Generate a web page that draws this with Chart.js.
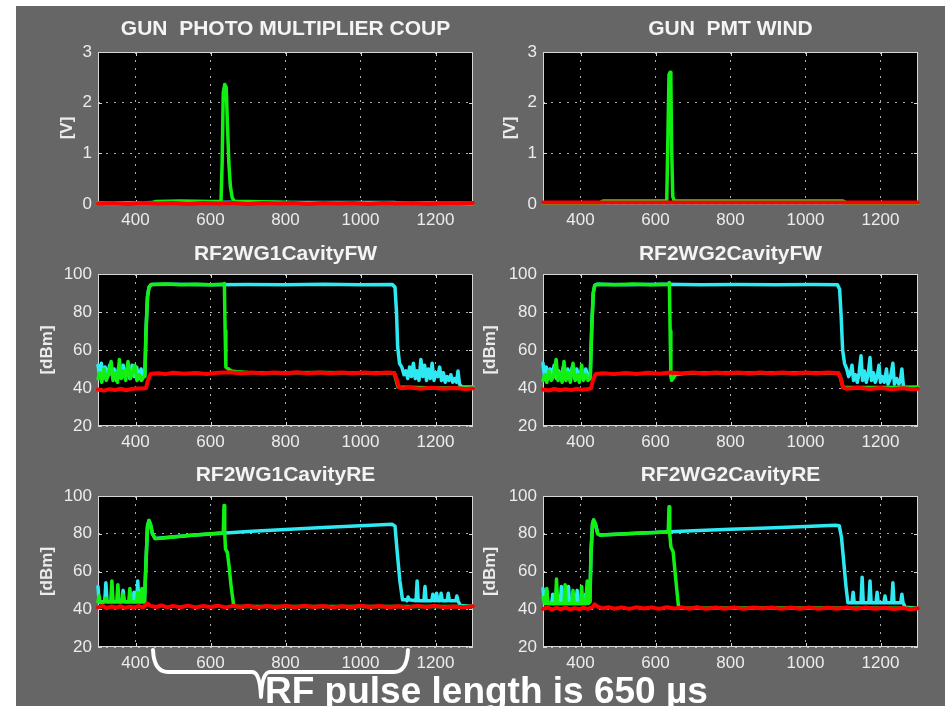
<!DOCTYPE html>
<html>
<head>
<meta charset="utf-8">
<title>RF pulse length</title>
<script src="https://cdn.jsdelivr.net/npm/chart.js@4.4.1/dist/chart.umd.min.js"></script>
<style>
  html, body { margin: 0; padding: 0; overflow: hidden; background: #ffffff; }
  #panel { position: absolute; left: 16px; top: 6px; width: 929px; height: 700px; background: #666666; }
  canvas { position: absolute; }
  #brace { position: absolute; left: 0; top: 0; }
  #note { position: absolute; left: 265px; top: 672px; font: bold 37px "Liberation Sans", Arial, sans-serif;
          line-height: 1; color: #ffffff; white-space: nowrap; }
</style>
</head>
<body>
<div id="panel"></div>
<svg id="brace" width="945" height="706">
  <path d="M153,650 Q154,672 168,672 L252,672 Q260,672 261,697 Q262,672 270,672 L394,672 Q407,672 408,650"
        fill="none" stroke="#ffffff" stroke-width="4" stroke-linecap="round" stroke-linejoin="round"/>
</svg>
<div id="note">RF pulse length is 650 µs</div>

<script>
// ---------------------------------------------------------------- axes
const xTicks = [400, 600, 800, 1000, 1200];
const voltTicks = [0, 1, 2, 3];
const dbmTicks = [20, 40, 60, 80, 100];

// ---------------------------------------------------------------- GUN PHOTO MULTIPLIER COUP [V]
const pmcRed = [[300,0.01],[340,0.02],[380,0.0],[420,0.02],[460,0.01],[500,0.02],[540,0.0],[580,0.02],[620,0.01],[660,0.02],[700,0.0],[740,0.02],[780,0.01],[820,0.02],[860,0.0],[900,0.02],[940,0.01],[980,0.02],[1020,0.0],[1060,0.02],[1100,0.01],[1140,0.02],[1180,0.0],[1220,0.02],[1260,0.01],[1300,0.02]];
const pmcGreen = [[300,0.01],[440,0.01],[455,0.05],[520,0.06],[600,0.05],[628,0.05],[631,0.8],[634,2.2],[638,2.36],[642,2.3],[645,1.6],[649,0.8],[653,0.35],[658,0.12],[664,0.05],[700,0.05],[760,0.04],[800,0.03],[900,0.02],[1000,0.02],[1100,0.02],[1300,0.01]];
const pmcCyan = [[300,0.02],[400,0.02],[450,0.03],[600,0.03],[700,0.04],[800,0.03],[900,0.03],[1000,0.03],[1090,0.03],[1100,0.02],[1300,0.01]];

// ---------------------------------------------------------------- GUN PMT WIND [V]
const pmtRed = [[300,0.03],[500,0.03],[700,0.03],[900,0.03],[1100,0.03],[1300,0.03]];
const pmtGreen = [[300,0.02],[450,0.02],[460,0.06],[630,0.06],[633,1.3],[636,2.55],[639,2.6],[641,2.45],[643,1.1],[646,0.15],[650,0.06],[1100,0.06],[1110,0.02],[1300,0.02]];
const pmtCyan = [[300,0.02],[700,0.02],[1300,0.02]];

// ---------------------------------------------------------------- RF2WG1CavityFW [dBm]
const fw1Red = [[300,39.2],[315,38.6],[330,39.4],[345,38.9],[360,39.6],[375,38.8],[390,39.5],[405,39.8],[420,39.7],[428,40],[433,44],[440,47.4],[460,47.8],[480,47.3],[500,48],[530,47.5],[560,47.9],[590,47.4],[620,48],[650,48.3],[680,47.8],[710,48.2],[740,47.7],[770,48.1],[800,47.8],[830,48.3],[860,47.7],[890,48.1],[920,47.8],[950,48.2],[980,47.8],[1010,48.1],[1040,47.7],[1070,48.2],[1090,47.9],[1096,45],[1102,40.5],[1110,39.8],[1130,40.2],[1160,39.6],[1190,40.1],[1220,39.6],[1250,40],[1280,39.5],[1300,39.8]];
const fw1Green = [[300,45],[305,48],[310,43],[316,50],[322,44],[328,47],[335,54],[340,44],[346,48],[352,43],[357,55],[362,45],[368,49],[374,44],[380,54],[386,45],[392,48],[398,52],[404,44],[410,47],[416,44],[422,46],[425,46],[428,70],[432,88],[436,93],[442,94.5],[480,94.7],[520,94.3],[560,94.6],[600,94.4],[632,94.6],[637,95],[639,70],[641,51],[648,50],[655,49],[670,48.5],[700,48.2],[800,48],[900,48.1],[1000,47.9],[1090,48],[1100,40.5],[1200,40],[1300,40]];
const fw1Cyan = [[300,52],[304,47],[309,53],[314,45],[319,51],[325,46],[331,52],[337,47],[343,50],[349,44],[355,51],[361,46],[367,52],[373,47],[379,50],[385,45],[391,52],[397,46],[403,51],[409,45],[415,50],[421,46],[425,47],[428,70],[432,88],[436,93],[442,94.5],[500,94.6],[600,94.4],[700,94.5],[800,94.3],[900,94.6],[1000,94.4],[1085,94.5],[1092,93],[1096,80],[1099,62],[1104,53],[1110,51],[1116,47],[1121,49],[1126,45],[1131,51],[1136,46],[1141,53],[1146,45],[1151,49],[1156,44],[1161,55],[1166,46],[1171,52],[1176,44],[1181,50],[1186,45],[1191,53],[1196,44],[1201,48],[1206,46],[1211,51],[1216,44],[1221,48],[1226,43],[1231,46],[1236,44],[1241,47],[1246,43],[1251,45],[1256,43],[1260,49],[1264,42],[1270,40.5],[1300,40.5]];

// ---------------------------------------------------------------- RF2WG2CavityFW [dBm]
const fw2Red = [[300,39.2],[315,38.7],[330,39.5],[345,38.8],[360,39.4],[375,38.9],[390,39.6],[405,39.1],[420,39.5],[428,39.8],[433,44],[440,47.3],[460,47.8],[490,47.3],[520,47.9],[550,47.4],[580,48],[610,47.5],[640,48.1],[670,47.6],[700,48.1],[730,47.6],[760,48.2],[790,47.7],[820,48.1],[850,47.6],[880,48.2],[910,47.7],[940,48.1],[970,47.6],[1000,48.2],[1030,47.7],[1060,48.1],[1088,47.8],[1094,45],[1100,40.3],[1110,39.6],[1140,40.1],[1170,39.5],[1200,40],[1230,39.4],[1260,39.9],[1285,39.3],[1300,39.6]];
const fw2Green = [[300,44],[305,47],[310,43],[316,49],[322,44],[328,46],[335,55],[340,44],[346,48],[351,43],[356,54],[361,44],[367,48],[373,43],[380,53],[386,44],[392,47],[397,43],[403,52],[408,44],[414,47],[420,44],[426,45],[430,72],[434,90],[438,94],[444,94.6],[490,94.3],[540,94.7],[590,94.4],[632,94.6],[637,95.5],[639,70],[641,46],[643,44],[647,45],[653,47],[680,47.8],[750,48],[850,47.9],[950,48],[1050,47.9],[1088,47.8],[1094,45],[1100,40.3],[1200,40.2],[1300,40.5]];
const fw2Cyan = [[300,53],[304,46],[309,51],[314,45],[319,50],[324,46],[330,52],[336,45],[342,49],[348,45],[354,51],[360,45],[366,50],[372,46],[378,51],[384,45],[390,50],[396,46],[402,49],[408,45],[414,50],[420,46],[426,47],[430,72],[434,90],[438,94],[444,94.6],[520,94.4],[620,94.6],[720,94.3],[820,94.5],[920,94.3],[1020,94.5],[1085,94.4],[1091,92],[1095,78],[1099,60],[1104,53],[1110,50],[1115,46],[1120,48],[1124,52],[1128,44],[1133,47],[1138,43],[1143,48],[1148,57],[1152,44],[1157,49],[1162,43],[1167,47],[1172,56],[1176,44],[1181,48],[1186,43],[1191,46],[1196,52],[1200,43],[1205,46],[1210,43],[1216,50],[1220,42],[1226,45],[1233,53],[1237,42],[1243,45],[1249,42],[1253,44],[1257,50],[1261,41],[1267,39.8],[1300,39.5]];

// ---------------------------------------------------------------- RF2WG1CavityRE [dBm]
const re1Red = [[300,41],[312,41.8],[324,40.6],[336,41.5],[348,40.8],[360,41.6],[372,40.7],[384,41.4],[396,40.9],[408,41.7],[420,41],[432,43],[440,41.8],[455,41.2],[470,42],[485,41],[500,41.8],[520,41.1],[540,41.9],[560,41],[580,41.7],[600,41.2],[620,41.9],[640,41],[660,41.8],[680,41.2],[700,41.9],[725,41],[750,41.7],[775,41.1],[800,41.8],[825,41.1],[850,41.8],[875,41.2],[900,41.7],[925,41],[950,41.6],[975,41.1],[1000,41.8],[1025,41.2],[1050,41.7],[1075,41.1],[1100,41.6],[1125,41],[1150,41.8],[1175,41.2],[1200,41.8],[1225,41],[1250,41.5],[1275,41.1],[1300,41.6]];
const re1Green = [[300,44],[303,47],[306,43.5],[318,44],[321,46],[324,44],[334,44],[337,55],[340,44],[350,44],[353,53],[356,44],[364,44],[367,48],[370,44],[382,44],[385,51],[388,44],[403,44],[406,49],[409,44],[414,44],[417,51],[420,44],[424,44],[428,65],[432,84],[436,87],[440,85],[445,80],[452,77.5],[470,77.6],[500,78.3],[550,79.2],[600,80],[634,80.5],[636,95],[638,80],[640,72],[645,70],[650,62],[655,52],[661,43],[665,41.5],[800,41.4],[1000,41.5],[1300,41.4]];
const re1Cyan = [[300,52],[303,44],[318,44],[321,54],[324,44],[364,44],[367,50],[370,44],[393,44],[396,49],[399,44],[403,44],[406,55],[409,44],[424,44],[428,65],[432,84],[436,87],[440,85],[445,80],[452,77.5],[550,79.2],[640,80.4],[700,81.2],[800,82.3],[900,83.3],[1000,84.2],[1085,85],[1092,84],[1098,70],[1105,55],[1112,45],[1120,45],[1124,44.5],[1127,46.5],[1130,45],[1148,44.5],[1151,55],[1154,44.5],[1169,44.5],[1172,52],[1175,44.5],[1190,44.5],[1193,48],[1196,44.5],[1200,44.5],[1203,48.5],[1206,44.5],[1212,44.5],[1215,48.5],[1218,44.5],[1231,44.5],[1234,48.5],[1237,44.5],[1254,44.5],[1257,47],[1260,44.5],[1266,42],[1300,41.5]];

// ---------------------------------------------------------------- RF2WG2CavityRE [dBm]
const re2Red = [[300,40.2],[312,41],[324,39.8],[336,40.7],[348,40],[360,40.9],[372,39.9],[384,40.6],[396,40.1],[408,40.8],[420,40.2],[432,41.2],[438,42.6],[446,41.3],[460,40.5],[475,41.1],[490,40.3],[510,41],[530,40.2],[550,41.1],[570,40.4],[590,41],[610,40.2],[630,41.1],[650,40.4],[670,41],[690,40.3],[710,41.1],[735,40.2],[760,40.9],[785,40.3],[810,41],[835,40.2],[860,40.9],[885,40.4],[910,41],[935,40.2],[960,40.9],[985,40.3],[1010,41],[1035,40.2],[1060,40.8],[1085,40.3],[1110,41],[1135,40.2],[1160,40.9],[1185,40.3],[1210,40.8],[1235,40.1],[1260,40.7],[1280,40],[1300,40.5]];
const re2Green = [[300,46],[306,43],[310,51],[313,43],[333,43],[336,56],[339,43],[356,43],[359,53],[362,43],[377,43],[380,50],[383,43],[400,43],[403,52],[406,43],[414,43],[418,55],[421,43],[425,44],[428,70],[432,85],[435,87.3],[440,85],[446,80],[452,79.3],[500,79.8],[550,80.3],[600,80.6],[634,81],[636,94.3],[638,80],[641,73],[647,70.5],[652,60],[657,50],[661,42],[665,40.5],[900,40.6],[1300,40.5]];
const re2Cyan = [[300,51],[304,43],[310,50],[313,43],[323,43],[326,48],[329,43],[346,43],[349,52],[352,43],[365,43],[368,52],[371,43],[388,43],[391,50],[394,43],[410,43],[413,48],[416,43],[425,44],[428,70],[432,85],[435,87.3],[440,85],[446,80],[452,79.3],[550,80.3],[640,81],[700,81.6],[800,82.4],[900,83.1],[1000,83.8],[1080,84.5],[1090,84.3],[1096,78],[1102,65],[1108,52],[1113,43.5],[1124,43.5],[1127,49],[1130,43.5],[1148,43.5],[1151,57],[1154,43.5],[1169,43.5],[1172,55],[1175,43.5],[1188,43.5],[1191,49],[1194,43.5],[1209,43.5],[1212,47],[1215,43.5],[1230,43.5],[1233,54],[1236,43.5],[1254,43.5],[1257,48],[1260,43.5],[1266,41],[1300,40.5]];

// ---------------------------------------------------------------- styling
const RED = '#ff0000';
const GREEN = '#11f011';
const CYAN = '#2ee8f2';
const TEXT = '#ececec';
const GRID = 'rgba(215,215,215,0.8)';
const FRAME = '#d6d6d6';

Chart.defaults.font.family = '"Liberation Sans", Arial, Helvetica, sans-serif';
Chart.defaults.color = TEXT;

// plot box = [left, top, width, height] of the black axes area on the page
const panels = [
  {plot: [98, 52, 375, 152],  title: 'GUN  PHOTO MULTIPLIER COUP', titleGap: 22.5, yLabel: '[V]',   yGap: 31, yMin: 0,  yMax: 3,   yTicks: voltTicks, red: pmcRed, green: pmcGreen, cyan: pmcCyan},
  {plot: [543, 52, 375, 152], title: 'GUN  PMT WIND',              titleGap: 22.5, yLabel: '[V]',   yGap: 33, yMin: 0,  yMax: 3,   yTicks: voltTicks, red: pmtRed, green: pmtGreen, cyan: pmtCyan},
  {plot: [98, 274, 375, 152], title: 'RF2WG1CavityFW',             titleGap: 20,   yLabel: '[dBm]', yGap: 51, yMin: 20, yMax: 100, yTicks: dbmTicks,  red: fw1Red, green: fw1Green, cyan: fw1Cyan},
  {plot: [543, 274, 375, 152],title: 'RF2WG2CavityFW',             titleGap: 20,   yLabel: '[dBm]', yGap: 53, yMin: 20, yMax: 100, yTicks: dbmTicks,  red: fw2Red, green: fw2Green, cyan: fw2Cyan},
  {plot: [98, 496, 375, 151], title: 'RF2WG1CavityRE',             titleGap: 21,   yLabel: '[dBm]', yGap: 51, yMin: 20, yMax: 100, yTicks: dbmTicks,  red: re1Red, green: re1Green, cyan: re1Cyan},
  {plot: [543, 496, 375, 151],title: 'RF2WG2CavityRE',             titleGap: 21,   yLabel: '[dBm]', yGap: 53, yMin: 20, yMax: 100, yTicks: dbmTicks,  red: re2Red, green: re2Green, cyan: re2Cyan}
];

// black axes background, box and inward ticks (matlab look)
const framePlugin = {
  id: 'frame',
  beforeDraw(chart) {
    const a = chart.chartArea, ctx = chart.ctx;
    ctx.save();
    ctx.fillStyle = '#000000';
    ctx.fillRect(a.left, a.top, a.width, a.height);
    ctx.restore();
  },
  beforeDatasetsDraw(chart) {
    const a = chart.chartArea, ctx = chart.ctx;
    const xs = chart.scales.x, ys = chart.scales.y;
    ctx.save();
    ctx.strokeStyle = FRAME;
    ctx.lineWidth = 1;
    ctx.strokeRect(a.left + 0.5, a.top + 0.5, a.width - 1, a.height - 1);
    ctx.beginPath();
    xs.ticks.forEach(t => {
      const px = Math.round(xs.getPixelForValue(t.value)) + 0.5;
      ctx.moveTo(px, a.bottom); ctx.lineTo(px, a.bottom - 4);
      ctx.moveTo(px, a.top); ctx.lineTo(px, a.top + 4);
    });
    ys.ticks.forEach(t => {
      const py = Math.round(ys.getPixelForValue(t.value)) + 0.5;
      ctx.moveTo(a.left, py); ctx.lineTo(a.left + 4, py);
      ctx.moveTo(a.right, py); ctx.lineTo(a.right - 4, py);
    });
    ctx.stroke();
    ctx.restore();
  }
};

function toPoints(pairs) {
  return pairs.map(p => ({x: p[0], y: p[1]}));
}

function trace(pairs, color, width) {
  return {
    data: toPoints(pairs),
    borderColor: color,
    borderWidth: width,
    pointRadius: 0,
    tension: 0,
    borderJoinStyle: 'round',
    borderCapStyle: 'round',
    clip: 2
  };
}

const root = document.getElementById('panel');
const AREA_LEFT = 82, AREA_TOP = 46, AXIS_H = 32, PAD_RIGHT = 12;

panels.forEach(p => {
  const [left, top, w, h] = p.plot;
  const canvas = document.createElement('canvas');
  canvas.width = AREA_LEFT + w + PAD_RIGHT;
  canvas.height = AREA_TOP + h + AXIS_H;
  canvas.style.left = (left - AREA_LEFT - 16) + 'px';
  canvas.style.top = (top - AREA_TOP - 6) + 'px';
  root.appendChild(canvas);

  // title block is exactly AREA_TOP high, text centred titleGap above the axes
  const titleLine = 21 * 1.2;
  const padTop = AREA_TOP - p.titleGap - titleLine / 2;
  const padBottom = AREA_TOP - titleLine - padTop;
  // y label centre sits yGap left of the axes
  const yLabelHalf = 17 * 1.2 / 2;
  const padLeft = AREA_LEFT - p.yGap - yLabelHalf;

  new Chart(canvas, {
    type: 'line',
    data: {
      // first dataset is drawn on top
      datasets: [trace(p.red, RED, 4), trace(p.green, GREEN, 3.5), trace(p.cyan, CYAN, 3.5)]
    },
    options: {
      responsive: false,
      animation: false,
      events: [],
      layout: {padding: {left: padLeft, right: PAD_RIGHT, top: 0, bottom: 0}},
      plugins: {
        legend: {display: false},
        tooltip: {enabled: false},
        title: {
          display: true,
          text: p.title,
          color: '#f4f4f4',
          fullSize: false,
          font: {size: 21, weight: 'bold', lineHeight: 1.2},
          padding: {top: padTop, bottom: padBottom}
        }
      },
      scales: {
        x: {
          type: 'linear',
          min: 300,
          max: 1300,
          afterBuildTicks: s => { s.ticks = xTicks.map(v => ({value: v})); },
          afterFit: s => { s.height = AXIS_H; },
          grid: {color: GRID, lineWidth: 1, drawTicks: false},
          border: {display: false, dash: [2, 6]},
          ticks: {color: TEXT, font: {size: 17}, padding: 6, maxRotation: 0, autoSkip: false,
                  callback: v => String(v)}
        },
        y: {
          min: p.yMin,
          max: p.yMax,
          afterBuildTicks: s => { s.ticks = p.yTicks.map(v => ({value: v})); },
          afterFit: s => { s.width = AREA_LEFT - padLeft; },
          grid: {color: GRID, lineWidth: 1, drawTicks: false},
          border: {display: false, dash: [2, 6]},
          ticks: {color: TEXT, font: {size: 17}, padding: 6, callback: v => String(v)},
          title: {display: true, text: p.yLabel, color: TEXT, font: {size: 17, weight: 'bold', lineHeight: 1.2}, padding: 0}
        }
      }
    },
    plugins: [framePlugin]
  });
});
</script>
</body>
</html>
